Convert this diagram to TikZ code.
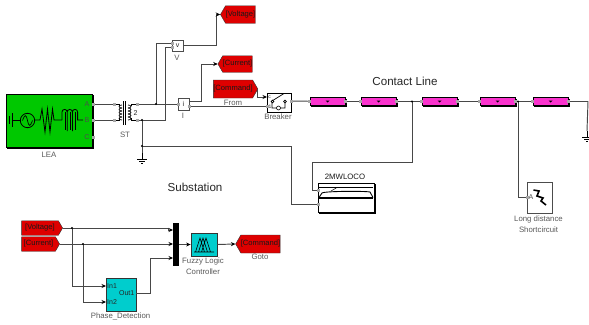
\documentclass[tikz,border=0pt]{standalone}
\usepackage{fontspec}
\setmainfont{Liberation Sans}
\usetikzlibrary{shapes.symbols, arrows.meta, calc}
\definecolor{leagreen}{RGB}{0,200,0}
\definecolor{tagred}{RGB}{222,0,0}
\definecolor{linepink}{RGB}{250,50,205}
\definecolor{fuzzyteal}{RGB}{0,205,205}

\begin{document}
\begin{tikzpicture}[x=1pt, y=-1pt,
    wire/.style={draw=black!72, line width=0.95pt},
    arr/.style={wire, -{Stealth[length=4.5pt, width=4pt, black]}},
    tiny/.style={inner sep=0pt, font=\fontsize{7.8}{10}\selectfont, text=black!65, align=center},
    title/.style={inner sep=0pt, font=\fontsize{11.6}{13}\selectfont, text=black!85},
    inlabel/.style={inner sep=0pt, font=\fontsize{7}{8}\selectfont, text=black!85},
    block/.style={rectangle, draw=black, line width=0.8pt, fill=white, inner sep=0pt},
    shadowed/.style={block, line width=0.9pt, preaction={draw=black, fill=black, line width=0.8pt, transform canvas={xshift=1.5pt, yshift=-1.5pt}}},
    tagout/.style={signal, signal to=west, signal pointer angle=120, draw=black!80, fill=tagred, inner sep=0pt, text=black!90, font=\fontsize{7.6}{9}\selectfont},
    tagin/.style={tagout, signal to=east},
    pinkline/.style={shadowed, fill=linepink, minimum width=35pt, minimum height=7.5pt},
    tealblock/.style={block, draw=black!80, fill=fuzzyteal},
    port/.style={rectangle, fill=black!35, minimum size=3pt, inner sep=0pt},
    dot/.style={circle, fill=black, minimum size=2.4pt, inner sep=0pt},
]
    \useasboundingbox (0,0) rectangle (589,324);

    % power side
    \node[shadowed, fill=leagreen, minimum width=86pt, minimum height=53pt] (lea) at (49,120.5) {};
    \node[tiny] (lealabel) at (49,155) {LEA};
    \node[inlabel, text=black!70] (leaA) at (87,104) {A};
    \node[inlabel, text=black!70] (leaB) at (87,120.5) {B};
    \node[inlabel, text=black!70] (leaC) at (87,137) {C};
    \node[inner sep=0pt, minimum width=1pt, minimum height=1pt] (stcore) at (125,111) {};
    \node[tiny] (stlabel) at (125,135) {ST};
    \node[inlabel] (sttwo) at (135.5,113.5) {2};
    \coordinate (stA) at (114,104);
    \coordinate (stB) at (114,120);
    \coordinate (stC) at (137,104);
    \coordinate (stD) at (137,120);
    \coordinate (leaPA) at (93,104);
    \coordinate (leaPB) at (93,120);
    \coordinate (leaPC) at (93,137);

    % source, resistor and coil drawn on the green block
    \draw[line width=0.8pt] (12,113) -- (12,127) (9,116) -- (9,124) (12,120) -- (20,120);
    \draw[line width=0.8pt] (27.5,120.5) circle (7.2pt);
    \draw[line width=0.7pt] (22.5,120.5) .. controls (25,114) and (26,114) .. (27.5,120.5) .. controls (29,127) and (30,127) .. (32.5,120.5);
    \draw[line width=0.8pt] (35,120) -- (40,120) -- (42,109) -- (45,132) -- (47.5,109) -- (50,132) -- (52.5,109) -- (54,120) -- (62,120);
    \draw[line width=0.8pt] (62,120) -- (62,112) arc (180:0:2.6pt) -- (67.2,131) (67.2,112) arc (180:0:2.6pt) -- (72.4,131) (72.4,112) arc (180:0:2.6pt) -- (77.6,120) -- (83,120);
    \draw[line width=0.5pt] (65,112) -- (65,130) (70,112) -- (70,130) (75,112) -- (75,130);

    % transformer
    \draw[line width=0.9pt] (stcore) ++(0,-10) -- ++(0,24);
    \draw[line width=0.9pt] (stcore) ++(-1.5,-10) -- ++(0,24);
    \foreach \yy in {105,108,111,114,117}
        \draw[line width=0.7pt] (122,\yy) arc (90:270:3pt and 1.5pt) (128,\yy) arc (90:-90:3pt and 1.5pt);
    \draw[line width=0.7pt] (stA) -- (119,104) -- (119,106) (stB) -- (119,120) -- (119,118);
    \draw[line width=0.7pt] (stC) -- (131,104) -- (131,106) (stD) -- (131,120) -- (131,118);

    % measurements
    \node[block, draw=black!70, minimum width=11pt, minimum height=11pt, inlabel] (volt) at (177.5,45.5) {v};
    \node[tiny] (voltlabel) at (177,58) {V};
    \node[block, draw=black!70, minimum width=11pt, minimum height=12pt, inlabel] (curr) at (183.5,104) {i};
    \node[tiny] (currlabel) at (183,116) {I};
    \node[tagout, minimum width=35pt, minimum height=17.5pt] (gvolt) at (240.5,14.5) {[Voltage]};
    \node[tagout, minimum width=33pt, minimum height=16.5pt] (gcurr) at (237.5,64) {[Current]};
    \node[tagin, minimum width=42pt, minimum height=18pt] (fcmd) at (233,89) {[Command]};
    \node[tiny] (fromlabel) at (233,103) {From};
    \node[block, minimum width=24pt, minimum height=19pt] (breaker) at (279,102.5) {};
    \node[tiny] (breakerlabel) at (278,117) {Breaker};
    \draw[line width=0.7pt] (272,101) -- (284,93.5) (272,101) -- (272,108) -- (285,108) -- (285,101);
    \draw[line width=0.6pt, fill=white] (272.5,101.5) circle (1.4pt) (285,101.5) circle (1.4pt) (278.5,108) circle (2pt);
    \node[inlabel, font=\fontsize{5}{6}\selectfont] (brc) at (269.5,97.5) {c};
    \node[inlabel, font=\fontsize{5}{6}\selectfont] (brone) at (270,106.5) {1};

    % contact line
    \node[pinkline] (lineA) at (327.5,101.5) {};
    \node[pinkline] (lineB) at (378.5,101.5) {};
    \node[pinkline] (lineC) at (439.5,101.5) {};
    \node[pinkline] (lineD) at (497.5,101.5) {};
    \node[pinkline] (lineE) at (550.5,101.5) {};
    \foreach \n in {lineA,lineB,lineC,lineD,lineE}
        \fill (\n.center) ++(-2,-1) -- ++(4,0) -- ++(-2,2) -- cycle;
    \node[title] (contacttitle) at (405,81) {Contact Line};
    \node[title] (subtitle) at (195,187.5) {Substation};

    % loco and short circuit
    \node[shadowed, minimum width=56pt, minimum height=29pt] (loco) at (346,197.5) {};
    \node[tiny, text=black!90] (locolabel) at (345,177) {2MWLOCO};
    \draw[line width=0.8pt] (319,187) -- (373,187);
    \draw[line width=0.9pt] (319,197.5) -- (322,193) .. controls (325,191) and (366,191) .. (370,192) -- (373,197.5);
    \draw[line width=1.4pt] (319,198) -- (373,198);
    \draw[line width=0.5pt] (331,191) -- (337,187.5) -- (331,187.5);
    \node[block, draw=black!70, minimum width=25pt, minimum height=31pt] (fault) at (539.5,197.5) {};
    \node[inlabel, text=black!70] (faultA) at (531,197.5) {A};
    \draw[line width=1.6pt] (533.5,190) -- (539,191) -- (537,196) -- (543,198) -- (541,201) -- (546,205);
    \node[tiny] (faultlabel) at (538.5,224.5) {Long distance\\[1pt]Shortcircuit};

    % named connector ends
    \coordinate (voltin) at (172,43);
    \coordinate (voltinb) at (172,47.5);
    \coordinate (voltout) at (183,45);
    \coordinate (currin) at (178,104);
    \coordinate (currouta) at (189,101);
    \coordinate (curroutb) at (189,106);
    \coordinate (brin) at (267,106);
    \coordinate (brcmd) at (267,97);
    \coordinate (brout) at (291,101);
    \coordinate (jtap) at (156,104);
    \coordinate (jgnd) at (142,120);
    \coordinate (jbranch) at (142,146);
    \coordinate (gnda) at (142,153);
    \coordinate (gndb) at (587,131);
    \coordinate (jloco) at (412,101.5);
    \coordinate (jfault) at (518,101.5);
    \coordinate (locoa) at (318,190);
    \coordinate (locob) at (318,204);
    \coordinate (faultin) at (527,197);

    % power wires
    \draw[wire] (leaPA) -- (stA);
    \draw[wire] (leaPB) -- (stB);
    \draw[wire] (stC) -- (currin);
    \draw[wire] (stD) -- (165,120) -- (165,47.5) -- (voltinb);
    \draw[wire] (jtap) -- (156,43) -- (voltin);
    \draw[wire] (jgnd) -- (gnda);
    \draw[wire] (jbranch) -- (291,146) -- (291,204) -- (locob);
    \draw[wire] (curroutb) -- (brin);
    \draw[wire] (brout) -- (lineA);
    \draw[wire] (lineA) -- (lineB);
    \draw[wire] (lineB) -- (lineC);
    \draw[wire] (lineC) -- (lineD);
    \draw[wire] (lineD) -- (lineE);
    \draw[wire] (lineE) -- (588,101.5) -- (gndb);
    \draw[wire] (jloco) -- (412,162) -- (312,162) -- (312,190) -- (locoa);
    \draw[wire] (jfault) -- (518,197) -- (faultin);

    % grounds
    \foreach \g in {gnda,gndb}
        \draw[line width=0.7pt] (\g) -- ++(0,6) ++(-5,0) -- ++(10,0) ++(-8,2) -- ++(6,0) ++(-4,2) -- ++(2,0);

    % signal wires
    \draw[arr] (voltout) -- (216,45) -- (216,14.5) -- (gvolt.west);
    \draw[arr] (currouta) -- (201,101) -- (201,64) -- (gcurr.west);
    \draw[arr] (fcmd.east) -- (257,89) -- (257,97) -- (brcmd);

    % controller
    \node[tagin, minimum width=41pt, minimum height=14.5pt] (fvolt) at (40,228) {[Voltage]};
    \node[tagin, minimum width=38pt, minimum height=14.5pt] (fcurr) at (38.5,244) {[Current]};
    \node[rectangle, fill=black, minimum width=6pt, minimum height=43pt, inner sep=0pt] (mux) at (176,244.5) {};
    \node[tealblock, minimum width=26pt, minimum height=23pt] (flc) at (204,244.5) {};
    \draw[line width=0.6pt] (194,252) -- (214,252) (195.5,252) -- (200,238) -- (204.5,252) (198.5,252) -- (203,238) -- (207.5,252) (201.5,252) -- (206,238) -- (210.5,252);
    \node[tiny] (flclabel) at (203,266) {Fuzzy Logic\\[1pt]Controller};
    \node[tagout, minimum width=43pt, minimum height=18pt] (gcmd) at (260.5,244) {[Command]};
    \node[tiny] (gcmdlabel) at (260,257) {Goto};
    \node[tealblock, minimum width=30pt, minimum height=33pt] (phase) at (121,294.5) {};
    \node[tiny] (phaselabel) at (120.5,316) {Phase\_Detection};
    \node[inlabel, anchor=west] (phin) at (107,286) {In1};
    \node[inlabel, anchor=west] (phintwo) at (107,302) {In2};
    \node[inlabel, anchor=east] (phout) at (134.5,293) {Out1};
    \coordinate (muxa) at (173,230);
    \coordinate (muxb) at (173,244);
    \coordinate (muxc) at (173,258);
    \coordinate (jvolt) at (72,228);
    \coordinate (jcurr) at (83,244);
    \coordinate (phina) at (106,286);
    \coordinate (phinb) at (106,302);
    \coordinate (phoutp) at (136,293);

    \draw[arr] (fvolt.east) -- (168,228) -- (168,230) -- (muxa);
    \draw[arr] (fcurr.east) -- (muxb);
    \draw[arr] (phoutp) -- (150,293) -- (150,258) -- (muxc);
    \draw[arr] (jvolt) -- (72,286) -- (phina);
    \draw[arr] (jcurr) -- (83,302) -- (phinb);
    \draw[arr] (mux.east) -- (flc.west);
    \draw[arr] (flc.east) -- (gcmd.west);

    % ports and junctions on top
    \foreach \p in {leaPA,leaPB,leaPC,stA,stB,stC,stD,voltin,voltinb,currin,curroutb,brin,brout,locoa,locob,faultin}
        \node[port] (port\p) at (\p) {};
    \foreach \n in {lineA,lineB,lineC,lineD,lineE} {
        \node[port] (portw\n) at (\n.west) {};
        \node[port] (porte\n) at (\n.east) {};
    }
    \foreach \j in {jtap,jgnd,jbranch,jloco,jfault,jvolt,jcurr}
        \node[dot] (dot\j) at (\j) {};
\end{tikzpicture}
\end{document}
